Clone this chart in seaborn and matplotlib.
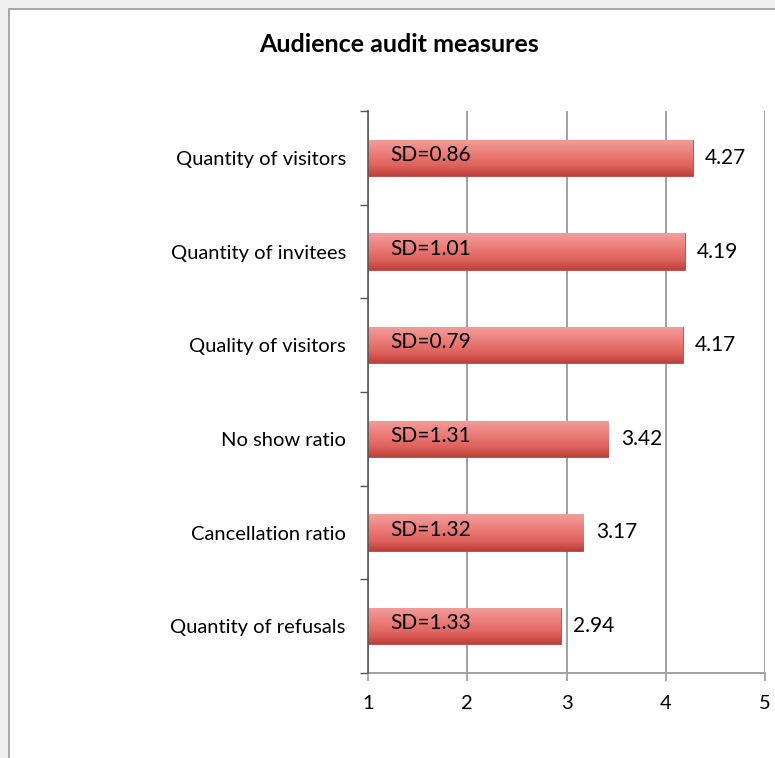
import numpy as np
import pandas as pd
import seaborn as sns
import matplotlib
matplotlib.use("Agg")
import matplotlib.pyplot as plt
from matplotlib.colors import LinearSegmentedColormap
from matplotlib.patches import Rectangle

# Survey measures, mean scores and standard deviations
measures = ["Quantity of visitors", "Quantity of invitees", "Quality of visitors",
            "No show ratio", "Cancellation ratio", "Quantity of refusals"]
means = [4.27, 4.19, 4.17, 3.42, 3.17, 2.94]
sds = [0.86, 1.01, 0.79, 1.31, 1.32, 1.33]
x_ticks = [1, 2, 3, 4, 5]
scale_min = 1

df = pd.DataFrame({"measure": measures, "mean": means, "sd": sds})
# bars start at the scale minimum
df["span"] = df["mean"] - scale_min

sns.set_style("white")
plt.rcParams["font.family"] = ["Lato", "DejaVu Sans"]

fig = plt.figure(figsize=(7.75, 7.58), dpi=100)
fig.patch.set_facecolor("#efefef")

# white panel with a thin grey frame, kept behind the axes
panel = Rectangle((9 / 775, -0.01), 1.0, 1 - 9 / 758 + 0.01, transform=fig.transFigure,
                  facecolor="white", edgecolor="#9a9a9a", linewidth=1.2, zorder=-10)
fig.patches.append(panel)

ax = fig.add_axes([368 / 775, 85 / 758, 397 / 775, 562 / 758])
ax.patch.set_visible(False)

sns.barplot(data=df, x="span", y="measure", orient="h", left=scale_min,
            color="#e8716e", width=0.39, edgecolor="#b8403c", linewidth=0.6,
            ax=ax, zorder=3)

# shaded fill on each bar
cmap = LinearSegmentedColormap.from_list(
    "barshade", ["#f29e9b", "#ee8986", "#e8746f", "#dc5f5a", "#bd3f3a"])
grad = np.linspace(0, 1, 64).reshape(-1, 1)
for patch in ax.patches:
    x0, y0 = patch.get_x(), patch.get_y()
    w, h = patch.get_width(), patch.get_height()
    im = ax.imshow(grad, cmap=cmap, aspect="auto", origin="upper",
                   extent=(x0, x0 + w, y0 + h, y0), zorder=3.5,
                   interpolation="bicubic")
    im.set_clip_path(patch)

ax.set_xlim(1, 5)
ax.set_ylim(len(measures) - 0.5, -0.5)
ax.set_xticks(x_ticks)
ax.set_xticklabels([str(t) for t in x_ticks], fontsize=14.5, color="black")
ax.set_xlabel("")
ax.set_ylabel("")

ax.set_yticks(range(len(measures)))
ax.set_yticklabels(measures, fontsize=14.5, color="black")
ax.tick_params(axis="y", which="major", left=True, length=0, pad=16)
ax.set_yticks(np.arange(-0.5, len(measures), 1), minor=True)
ax.tick_params(axis="y", which="minor", left=True, length=6, width=1,
               color="#555555", direction="out")
ax.tick_params(axis="x", which="major", bottom=True, length=6, width=1.2,
               color="#999999", pad=10, direction="out")

ax.grid(axis="x", color="#a0a0a0", linewidth=1.4, zorder=1)
ax.set_axisbelow(True)

for side in ["top", "right"]:
    ax.spines[side].set_visible(False)
ax.spines["left"].set_color("#555555")
ax.spines["left"].set_linewidth(1.2)
ax.spines["bottom"].set_color("#a0a0a0")
ax.spines["bottom"].set_linewidth(1.4)
ax.spines["left"].set_zorder(5)

for i, (m, s) in enumerate(zip(means, sds)):
    ax.text(1.22, i - 0.03, f"SD={s:.2f}", fontsize=15, va="center", ha="left",
            color="black", zorder=6)
    ax.annotate(f"{m:.2f}", xy=(m, i), xytext=(9, 0), textcoords="offset points",
                fontsize=15, va="center", ha="left", color="black", zorder=6)

fig.text(399 / 775, 1 - 45 / 758, "Audience audit measures", fontsize=18,
         fontweight="bold", ha="center", va="center", color="black")

fig.savefig("out.png", dpi=100, facecolor=fig.get_facecolor())
